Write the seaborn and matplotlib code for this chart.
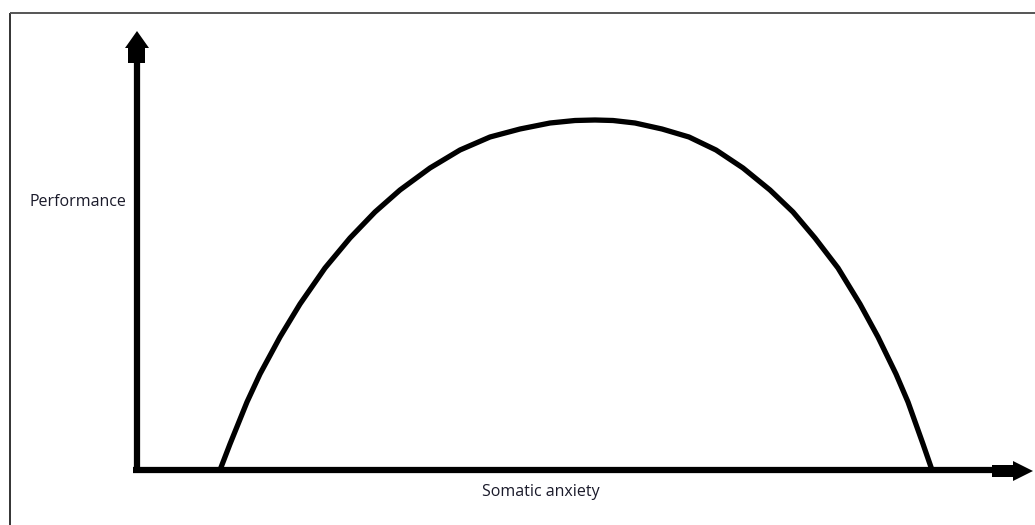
import numpy as np
import pandas as pd
import matplotlib
matplotlib.use('Agg')
import matplotlib.pyplot as plt
import seaborn as sns

# inverted-U curve (units: px from the axes origin)
anxiety = [83, 93, 110, 123, 143, 163, 188, 213, 238, 263, 293, 323, 353, 383,
           413, 438, 458, 476, 498, 525, 552, 579, 606, 633, 656, 678, 701, 723,
           741, 759, 771, 786, 795]
performance = [0, 26, 68, 96, 133, 166, 202, 232, 258, 280, 302, 320, 333, 341,
               347, 349.5, 350, 349.5, 347, 341, 333, 320, 302, 280, 258, 232, 202,
               166, 133, 96, 68, 26, 0]
x_label = 'Somatic anxiety'
y_label = 'Performance'

sns.set_theme(style='white')
plt.rcParams['font.family'] = ['Open Sans', 'DejaVu Sans']

fig = plt.figure(figsize=(10.35, 5.25), dpi=100)
ax = fig.add_axes([0, 0, 1, 1])

# screenshot frame (left + top)
ax.plot([-127, -127], [-60, 457], color='#333333', lw=1.4, solid_capstyle='butt')
ax.plot([-127, 900], [457, 457], color='#555555', lw=1.4, solid_capstyle='butt')

# axes drawn as thick lines with block arrow heads
ax.plot([0, 0], [-3, 408], color='black', lw=4.5, solid_capstyle='butt')
ax.plot([-4, 856], [0, 0], color='black', lw=4.5, solid_capstyle='butt')
ax.fill([0, 12, 8, 8, -9, -9, -12], [439, 422, 422, 407, 407, 422, 422],
        color='black', lw=0)
ax.fill([855, 876, 876, 896, 876, 876, 855], [5, 5, 9, -1, -11, -7, -7],
        color='black', lw=0)

df = pd.DataFrame({'anxiety': anxiety, 'performance': performance})
sns.lineplot(data=df, x='anxiety', y='performance', sort=False, color='black',
             linewidth=3.8, ax=ax)

ax.text(-59, 268, y_label, ha='center', va='center', fontsize=11.5, color='#1a1a2a')
ax.text(404, -22, x_label, ha='center', va='center', fontsize=11.5, color='#1a1a2a')

ax.set_xlim(-137, 1035 - 137)
ax.set_ylim(470 - 525, 470)
ax.axis('off')

fig.savefig('out.png', dpi=100)
